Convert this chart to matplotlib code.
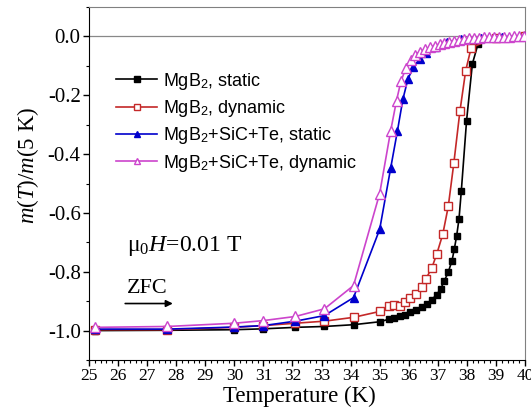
import matplotlib
matplotlib.use("Agg")
import matplotlib.pyplot as plt
from matplotlib.ticker import MultipleLocator

# MgB2, static
t_mg_st = [25.2, 27.7, 30.0, 31.0, 32.1, 33.1, 34.1, 35.0, 35.33, 35.5, 35.7, 35.87, 36.04, 36.25,
           36.44, 36.62, 36.79, 36.96, 37.1, 37.22, 37.36, 37.49, 37.57, 37.65, 37.73, 37.81,
           37.99, 38.19, 38.38, 39.0, 40.0]
m_mg_st = [-1.0, -0.999, -0.997, -0.994, -0.989, -0.986, -0.980, -0.970, -0.961, -0.957, -0.951,
           -0.946, -0.938, -0.930, -0.921, -0.909, -0.895, -0.878, -0.858, -0.832, -0.801, -0.762,
           -0.722, -0.677, -0.620, -0.524, -0.286, -0.093, -0.027, -0.004, 0.0]

# MgB2, dynamic
t_mg_dy = [25.2, 27.7, 30.0, 31.0, 32.1, 33.1, 34.1, 35.0, 35.33, 35.5, 35.7, 35.87, 36.06, 36.25,
           36.44, 36.59, 36.79, 36.96, 37.17, 37.36, 37.55, 37.76, 37.96, 38.15, 39.0, 40.0]
m_mg_dy = [-0.997, -0.997, -0.989, -0.983, -0.975, -0.968, -0.955, -0.935, -0.918, -0.912, -0.915,
           -0.904, -0.890, -0.875, -0.852, -0.824, -0.788, -0.741, -0.673, -0.578, -0.432, -0.255,
           -0.116, -0.038, -0.004, 0.0]

# MgB2+SiC+Te, static
t_sic_st = [25.2, 27.7, 30.0, 31.0, 32.1, 33.1, 34.1, 35.0, 35.38, 35.61, 35.8, 35.97, 36.15,
            36.39, 36.6, 36.9, 37.3, 37.8, 38.5, 39.2, 40.0]
m_sic_st = [-0.995, -0.995, -0.988, -0.983, -0.968, -0.949, -0.888, -0.656, -0.447, -0.322, -0.213,
            -0.146, -0.105, -0.077, -0.056, -0.036, -0.020, -0.010, -0.004, -0.001, 0.0]

# MgB2+SiC+Te, dynamic
t_sic_dy = [25.2, 27.7, 30.0, 31.0, 32.1, 33.1, 34.1, 35.0, 35.38, 35.58, 35.73, 35.90, 36.07,
            36.22, 36.38, 36.55, 36.72, 36.89, 37.06, 37.23, 37.40, 37.57, 37.74, 37.91, 38.08,
            38.25, 38.42, 38.59, 38.76, 38.93, 39.10, 39.27, 39.44, 39.61, 39.78, 39.95]
m_sic_dy = [-0.989, -0.986, -0.975, -0.966, -0.952, -0.926, -0.847, -0.534, -0.320, -0.218, -0.153,
            -0.108, -0.079, -0.062, -0.052, -0.044, -0.037, -0.031, -0.026, -0.022, -0.018, -0.015,
            -0.012, -0.009, -0.007, -0.005, -0.004, -0.003, -0.002, -0.002, -0.001, -0.001,
            -0.001, 0.0, 0.0, 0.0]

serif = "Liberation Serif"
sans = "Liberation Sans"

plt.rcParams["mathtext.fontset"] = "custom"
plt.rcParams["mathtext.rm"] = serif
plt.rcParams["mathtext.it"] = serif + ":italic"
plt.rcParams["mathtext.sf"] = sans

fig = plt.figure(figsize=(5.31, 4.19), dpi=100)
ax = fig.add_axes([0.1676, 0.1408, 0.8211, 0.8425])

ax.axhline(0.0, color="#888888", lw=0.9, zorder=1)

ax.plot(t_sic_dy, m_sic_dy, "-^", color="#cc44cc", mfc="white", mec="#cc44cc", ms=6.5, mew=1.0,
        lw=1.2, label="MgB$_\\mathsf{2}$+SiC+Te, dynamic", zorder=5)
ax.plot(t_sic_st, m_sic_st, "-^", color="#0000cc", mfc="#0000cc", mec="#0000cc", ms=6, lw=1.2,
        label="MgB$_\\mathsf{2}$+SiC+Te, static", zorder=4)
ax.plot(t_mg_dy, m_mg_dy, "-s", color="#c42828", mfc="white", mec="#c42828", ms=5.5, mew=1.0,
        lw=1.2, label="MgB$_\\mathsf{2}$, dynamic", zorder=3)
ax.plot(t_mg_st, m_mg_st, "-s", color="black", mfc="black", ms=5, lw=1.2,
        label="MgB$_\\mathsf{2}$, static", zorder=2)

ax.set_xlim(25, 40)
ax.set_ylim(-1.1, 0.1)
ax.xaxis.set_major_locator(MultipleLocator(1))
ax.xaxis.set_minor_locator(MultipleLocator(0.2))
ax.yaxis.set_major_locator(MultipleLocator(0.2))
ax.yaxis.set_minor_locator(MultipleLocator(0.1))
ax.tick_params(which="both", direction="out", top=False, right=False)
ax.tick_params(which="major", length=4, width=1)
ax.tick_params(which="minor", length=2.5, width=0.8)
ax.tick_params(axis="x", labelsize=12.5, pad=2)
ax.tick_params(axis="y", labelsize=15, pad=2)
yt = ax.get_yticks()
ax.set_yticks(yt)
ax.set_yticklabels(["0.0" if abs(v) < 1e-9 else f"{v:.1f}" for v in yt])
ax.set_ylim(-1.1, 0.1)
for lbl in ax.get_xticklabels() + ax.get_yticklabels():
    lbl.set_family(serif)

ax.spines["top"].set_color("#808080")
ax.spines["right"].set_color("#808080")

ax.set_xlabel("Temperature (K)", family=serif, fontsize=16.5)
ax.xaxis.set_label_coords(0.482, -0.072)
ax.set_ylabel("$m$($T$)/$m$(5 K)", family=serif, fontsize=16.5, va="center")
ax.yaxis.set_label_coords(-0.14, 0.552)

handles, labels = ax.get_legend_handles_labels()
leg = ax.legend(handles[::-1], labels[::-1], loc="upper left", bbox_to_anchor=(0.045, 0.84),
                frameon=False, prop={"family": sans, "size": 13}, handlelength=2.3,
                handletextpad=0.3, labelspacing=0.35, borderaxespad=0, markerscale=0.75)

ax.text(26.3, -0.711, "μ$_0$$H$=0.01 T", family=serif, fontsize=17, va="center")
ax.text(26.3, -0.857, "ZFC", family=serif, fontsize=16, va="center")
ax.annotate("", xy=(27.98, -0.908), xytext=(26.15, -0.908),
            arrowprops=dict(arrowstyle="-|>", color="black", lw=1.2, mutation_scale=10))

fig.savefig("out.png", dpi=100)
